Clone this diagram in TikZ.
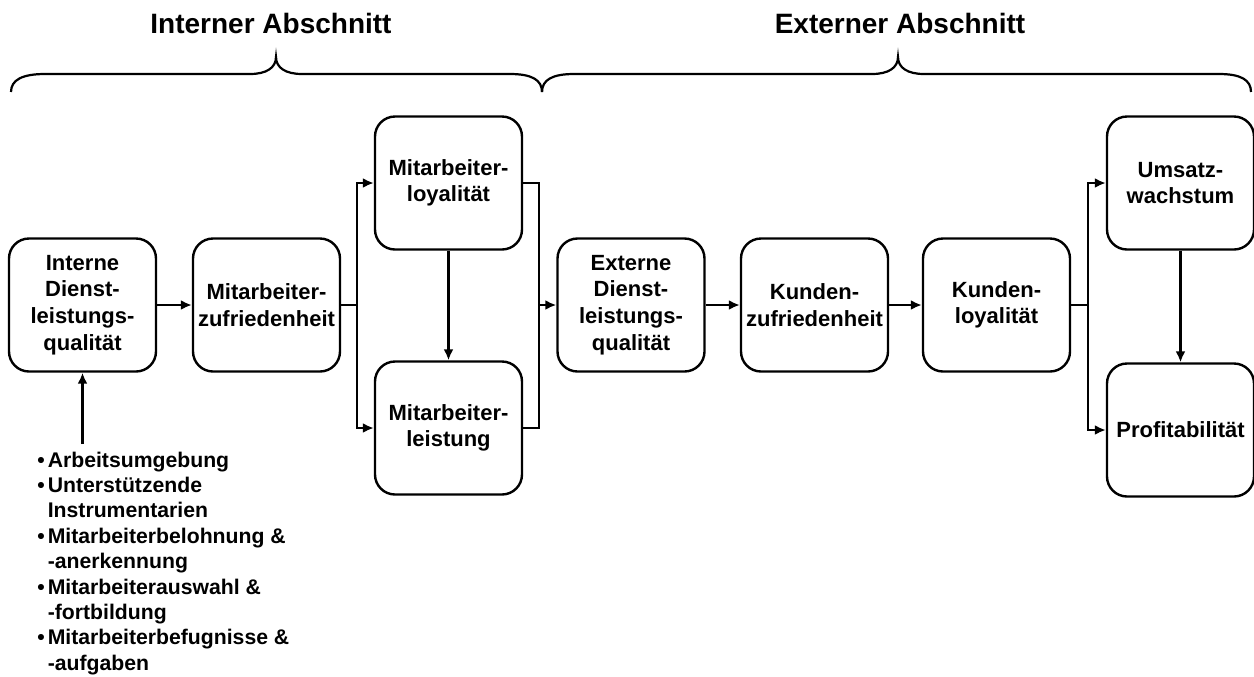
\documentclass[tikz,border=0pt]{standalone}
\usepackage{fontspec}
\setmainfont{Liberation Sans}
\usetikzlibrary{arrows.meta}
\begin{document}
\begin{tikzpicture}[x=0.5pt,y=-0.5pt,
  box/.style={draw, line width=1.2pt, rounded corners=10pt, minimum width=73.5pt, minimum height=66.5pt, inner sep=1pt, align=center, font=\fontsize{11}{13.3}\selectfont\bfseries},
  arr/.style={line width=1.2pt, -{Latex[length=5.5pt,width=5pt]}},
  ln/.style={line width=1.2pt},
  brace/.style={line width=1.1pt},
  head/.style={font=\fontsize{14}{17}\selectfont\bfseries, anchor=base},
  list/.style={font=\fontsize{10.6}{12.7}\selectfont\bfseries, inner sep=0pt, anchor=north west}
]
\useasboundingbox (0,0) rectangle (1254,676);

% headers
\node[head] (h1) at (271,33) {Interner Abschnitt};
\node[head] (h2) at (900,33) {Externer Abschnitt};

% braces
\draw[brace] (11,92) .. controls (11,80) and (22,74) .. (45,74) -- (250,74)
  .. controls (266,74) and (276,68) .. (276,57)
  .. controls (276,68) and (286,74) .. (302,74) -- (510,74)
  .. controls (532,74) and (542,80) .. (542,92);
\draw[brace] (542,92) .. controls (542,80) and (552,74) .. (574,74) -- (872,74)
  .. controls (888,74) and (898,68) .. (898,57)
  .. controls (898,68) and (908,74) .. (924,74) -- (1219,74)
  .. controls (1241,74) and (1251,80) .. (1251,92);

% boxes
\node[box] (b1) at (82.5,305) {Interne\\Dienst-\\leistungs-\\qualität};
\node[box] (b2) at (266.5,305) {Mitarbeiter-\\zufriedenheit};
\node[box] (b3) at (448.5,183) {Mitarbeiter-\\loyalität};
\node[box] (b4) at (448.5,428) {Mitarbeiter-\\leistung};
\node[box] (b5) at (631,305) {Externe\\Dienst-\\leistungs-\\qualität};
\node[box] (b6) at (814.5,305) {Kunden-\\zufriedenheit};
\node[box] (b7) at (996.5,305) {Kunden-\\loyalität};
\node[box] (b8) at (1180.5,183) {Umsatz-\\wachstum};
\node[box] (b9) at (1180.5,430) {Profitabilität};

% list
\node[list] (lst) at (37,449) {\begin{tabular}{@{}l@{\hspace{1.5pt}}l@{}}
\textbullet & Arbeitsumgebung\\
\textbullet & Unterstützende\\
 & Instrumentarien\\
\textbullet & Mitarbeiterbelohnung \&\\
 & -anerkennung\\
\textbullet & Mitarbeiterauswahl \&\\
 & -fortbildung\\
\textbullet & Mitarbeiterbefugnisse \&\\
 & -aufgaben
\end{tabular}};

% junction coordinates
\coordinate (src) at (82.5,444);
\coordinate (f1) at (357,305);
\coordinate (m1) at (539,305);
\coordinate (f2) at (1088,305);

% connectors
\draw[arr] (src) -- (b1.south);
\draw[arr] (b1.east) -- (b2.west);
\draw[ln] (b2.east) -- (f1);
\draw[arr] (f1) |- (b3.west);
\draw[arr] (f1) |- (b4.west);
\draw[arr] (b3.south) -- (b4.north);
\draw[ln] (b3.east) -| (m1);
\draw[ln] (b4.east) -| (m1);
\draw[arr] (m1) -- (b5.west);
\draw[arr] (b5.east) -- (b6.west);
\draw[arr] (b6.east) -- (b7.west);
\draw[ln] (b7.east) -- (f2);
\draw[arr] (f2) |- (b8.west);
\draw[arr] (f2) |- (b9.west);
\draw[arr] (b8.south) -- (b9.north);
\end{tikzpicture}
\end{document}
